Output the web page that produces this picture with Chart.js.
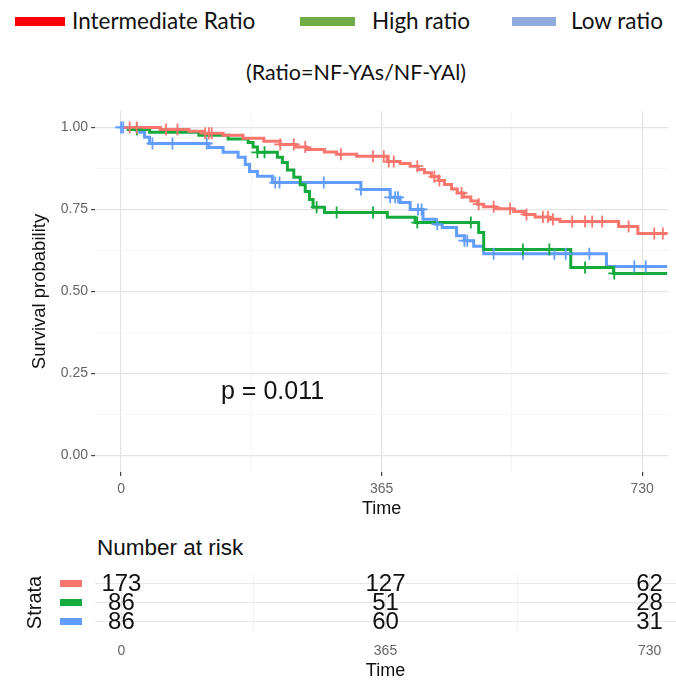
<!DOCTYPE html>
<html>
<head>
<meta charset="utf-8">
<script src="https://cdn.jsdelivr.net/npm/chart.js@4.4.1/dist/chart.umd.min.js"></script>
<style>
body { margin: 0; background: #fff; width: 676px; height: 682px; position: relative; overflow: hidden; font-family: 'Liberation Sans', Arial, sans-serif; }
canvas { position: absolute; left: 0; }
#main { top: 0; }
#risk { top: 530px; }
.lg { position: absolute; font-family: Lato, 'Open Sans', sans-serif; font-size: 22.5px; color: #111; line-height: 22px; white-space: nowrap; }
.sw { position: absolute; height: 9px; }
</style>
</head>
<body>
<div class="sw" style="left:15px;top:17px;width:50px;background:#ff0000"></div>
<div class="lg" style="left:72px;top:10px">Intermediate Ratio</div>
<div class="sw" style="left:300px;top:17px;width:55px;background:#70ad47"></div>
<div class="lg" style="left:372px;top:10px">High ratio</div>
<div class="sw" style="left:512px;top:17px;width:44px;background:#8faadc"></div>
<div class="lg" style="left:571px;top:10px">Low ratio</div>
<div class="lg" style="left:156px;width:400px;text-align:center;top:61px;font-size:21.5px">(Ratio=NF-YAs/NF-YAl)</div>
<div style="position:absolute;left:97px;top:537px;font-size:22.5px;color:#111;line-height:22px">Number at risk</div>
<canvas id="main" width="676" height="530"></canvas>
<canvas id="risk" width="676" height="152"></canvas>
<script>
// curve data: time (days) and survival after each step
const groups = ['Intermediate Ratio', 'High ratio', 'Low ratio'];
const colors = ['#F8766D', '#14AA3C', '#619CFF'];

const redTime = [0, 55, 95, 116, 143, 171, 200, 223, 245, 260, 285, 302, 330, 373, 391, 405, 416, 425, 435, 445, 453, 463, 471, 480, 490, 500, 508, 525, 550, 565, 580, 600, 615, 697, 724, 765];
const redSurv = [1, 0.994, 0.988, 0.982, 0.976, 0.967, 0.958, 0.948, 0.940, 0.933, 0.925, 0.918, 0.912, 0.896, 0.890, 0.882, 0.872, 0.862, 0.850, 0.838, 0.826, 0.812, 0.800, 0.788, 0.776, 0.766, 0.758, 0.752, 0.744, 0.735, 0.727, 0.720, 0.713, 0.698, 0.677, 0.677];
const redCensor = [12, 22, 63, 79, 118, 123, 127, 223, 242, 258, 308, 353, 368, 375, 382, 415, 439, 446, 477, 501, 522, 545, 568, 591, 598, 605, 632, 650, 660, 674, 711, 747, 759];

const greenTime = [0, 10, 40, 109, 150, 178, 185, 191, 219, 226, 233, 242, 251, 258, 264, 269, 285, 373, 412, 501, 508, 630, 690, 765];
const greenSurv = [1, 0.994, 0.985, 0.976, 0.965, 0.954, 0.940, 0.924, 0.909, 0.893, 0.870, 0.848, 0.825, 0.805, 0.780, 0.757, 0.741, 0.726, 0.710, 0.680, 0.628, 0.573, 0.555, 0.555];
const greenCensor = [22, 191, 201, 274, 302, 353, 415, 490, 563, 600, 650, 691];

const blueTime = [0, 20, 26, 33, 40, 123, 143, 164, 174, 180, 191, 212, 336, 377, 391, 405, 423, 440, 450, 470, 481, 494, 508, 680, 765];
const blueSurv = [1, 0.992, 0.985, 0.970, 0.951, 0.939, 0.924, 0.909, 0.887, 0.866, 0.851, 0.832, 0.811, 0.787, 0.771, 0.750, 0.720, 0.705, 0.695, 0.670, 0.655, 0.638, 0.615, 0.576, 0.576];
const blueCensor = [0, 3, 44, 72, 120, 216, 222, 284, 336, 377, 384, 388, 416, 421, 443, 481, 485, 522, 563, 607, 623, 656, 719, 735];

const xTicks = [0, 365, 730];
const yTicks = [0, 0.25, 0.5, 0.75, 1];
const xRange = [-36.5, 766.5];
const yRange = [-0.05, 1.05];

const pValue = 'p = 0.011';
const pAt = [140, 0.2];

const riskTimes = [0, 365, 730];
const riskRed = [173, 127, 62];
const riskGreen = [86, 51, 28];
const riskBlue = [86, 60, 31];

// majors plus the ggplot-style minor breaks between them
const withMinor = arr => {
    const out = [];
    arr.forEach((v, i) => {
        out.push(v);
        if (i < arr.length - 1) out.push((v + arr[i + 1]) / 2);
    });
    return out;
};
const xAll = withMinor(xTicks);
const yAll = withMinor(yTicks);

const survAt = (times, surv, t) => {
    let s = surv[0];
    for (let i = 0; i < times.length; i++) if (times[i] <= t) s = surv[i];
    return s;
};

const curve = (times, surv, color) => ({
    type: 'line',
    data: times.map((t, i) => ({ x: t, y: surv[i] })),
    borderColor: color,
    borderWidth: 3,
    stepped: true,
    pointRadius: 0,
    fill: false,
    order: 2
});
const marks = (times, surv, cens, color) => ({
    type: 'scatter',
    data: cens.map(t => ({ x: t, y: survAt(times, surv, t) })),
    borderColor: color,
    backgroundColor: color,
    pointStyle: 'cross',
    pointRadius: 6,
    borderWidth: 1.8,
    showLine: false,
    order: 1
});

const gridStyle = majors => ({
    color: c => majors.includes(c.tick.value) ? '#e4e4e4' : '#f1f1f1',
    lineWidth: c => majors.includes(c.tick.value) ? 1.2 : 0.7,
    tickColor: c => majors.includes(c.tick.value) ? '#444' : 'rgba(0,0,0,0)',
    tickLength: 4,
    tickWidth: 1.2
});

const pPlugin = {
    id: 'pval',
    afterDatasetsDraw(chart) {
        const { ctx, scales: { x, y } } = chart;
        ctx.save();
        ctx.font = '25px "Liberation Sans", Arial, sans-serif';
        ctx.fillStyle = '#111';
        ctx.textAlign = 'left';
        ctx.textBaseline = 'middle';
        ctx.fillText(pValue, x.getPixelForValue(pAt[0]), y.getPixelForValue(pAt[1]) + 2);
        ctx.restore();
    }
};

new Chart(document.getElementById('main'), {
    data: {
        datasets: [
            curve(redTime, redSurv, colors[0]),
            curve(greenTime, greenSurv, colors[1]),
            curve(blueTime, blueSurv, colors[2]),
            marks(redTime, redSurv, redCensor, colors[0]),
            marks(greenTime, greenSurv, greenCensor, colors[1]),
            marks(blueTime, blueSurv, blueCensor, colors[2])
        ]
    },
    options: {
        responsive: false,
        animation: false,
        layout: { padding: { top: 111, right: 0, left: 0, bottom: 0 } },
        plugins: { legend: { display: false }, tooltip: { enabled: false } },
        scales: {
            x: {
                type: 'linear', min: xRange[0], max: xRange[1],
                afterBuildTicks: s => { s.ticks = xAll.map(v => ({ value: v })); },
                afterFit: s => { s.height = 58; },
                grid: gridStyle(xTicks),
                border: { display: false },
                ticks: {
                    autoSkip: false, maxRotation: 0, padding: 5, color: '#666',
                    font: { size: 14 },
                    callback: v => xTicks.includes(v) ? String(v) : ''
                },
                title: { display: true, text: 'Time', color: '#111', font: { size: 18 }, padding: { top: 0, bottom: 10 } }
            },
            y: {
                type: 'linear', min: yRange[0], max: yRange[1],
                afterBuildTicks: s => { s.ticks = yAll.map(v => ({ value: v })); },
                afterFit: s => { s.width = 95; },
                grid: gridStyle(yTicks),
                border: { display: false },
                ticks: {
                    autoSkip: false, padding: 3, color: '#666',
                    font: { size: 14 },
                    callback: v => yTicks.includes(v) ? v.toFixed(2) : ''
                },
                title: { display: true, text: 'Survival probability', color: '#111', font: { size: 18.5 }, padding: { top: 29, bottom: 0 } }
            }
        }
    },
    plugins: [pPlugin]
});

const riskRows = [riskRed, riskGreen, riskBlue];
const riskPlugin = {
    id: 'riskTable',
    afterDatasetsDraw(chart) {
        const { ctx, scales: { x, y } } = chart;
        ctx.save();
        ctx.font = '24px "Liberation Sans", Arial, sans-serif';
        ctx.textAlign = 'center';
        ctx.textBaseline = 'middle';
        riskRows.forEach((row, r) => {
            const py = y.getPixelForValue(r + 1);
            ctx.fillStyle = '#111';
            row.forEach((n, i) => ctx.fillText(String(n), x.getPixelForValue(riskTimes[i]), py + 1));
            ctx.fillStyle = colors[r];
            ctx.fillRect(60, py - 3.5, 22, 7);
        });
        ctx.restore();
    }
};

new Chart(document.getElementById('risk'), {
    type: 'scatter',
    data: { datasets: [{ data: [] }] },
    options: {
        responsive: false,
        animation: false,
        layout: { padding: { top: 44, right: 0, left: 0, bottom: 0 } },
        plugins: { legend: { display: false }, tooltip: { enabled: false } },
        scales: {
            x: {
                type: 'linear', min: xRange[0], max: xRange[1],
                afterBuildTicks: s => { s.ticks = xAll.map(v => ({ value: v })); },
                afterFit: s => { s.height = 51; },
                grid: { color: c => xTicks.includes(c.tick.value) ? '#e4e4e4' : '#f1f1f1', drawTicks: false },
                border: { display: false },
                ticks: {
                    autoSkip: false, maxRotation: 0, padding: 12, color: '#666',
                    font: { size: 14 },
                    callback: v => xTicks.includes(v) ? String(v) : ''
                },
                title: { display: true, text: 'Time', color: '#111', font: { size: 18 }, padding: { top: 0, bottom: 0 } }
            },
            y: {
                type: 'linear', min: 0.5, max: 3.5, reverse: true,
                afterBuildTicks: s => { s.ticks = [1, 2, 3].map(v => ({ value: v })); },
                afterFit: s => { s.width = 95; },
                grid: { color: '#e8e8e8', drawTicks: false },
                border: { display: false },
                ticks: { display: false },
                title: { display: true, text: 'Strata', color: '#111', font: { size: 20 }, padding: { top: 23, bottom: 0 } }
            }
        }
    },
    plugins: [riskPlugin]
});
</script>
</body>
</html>
